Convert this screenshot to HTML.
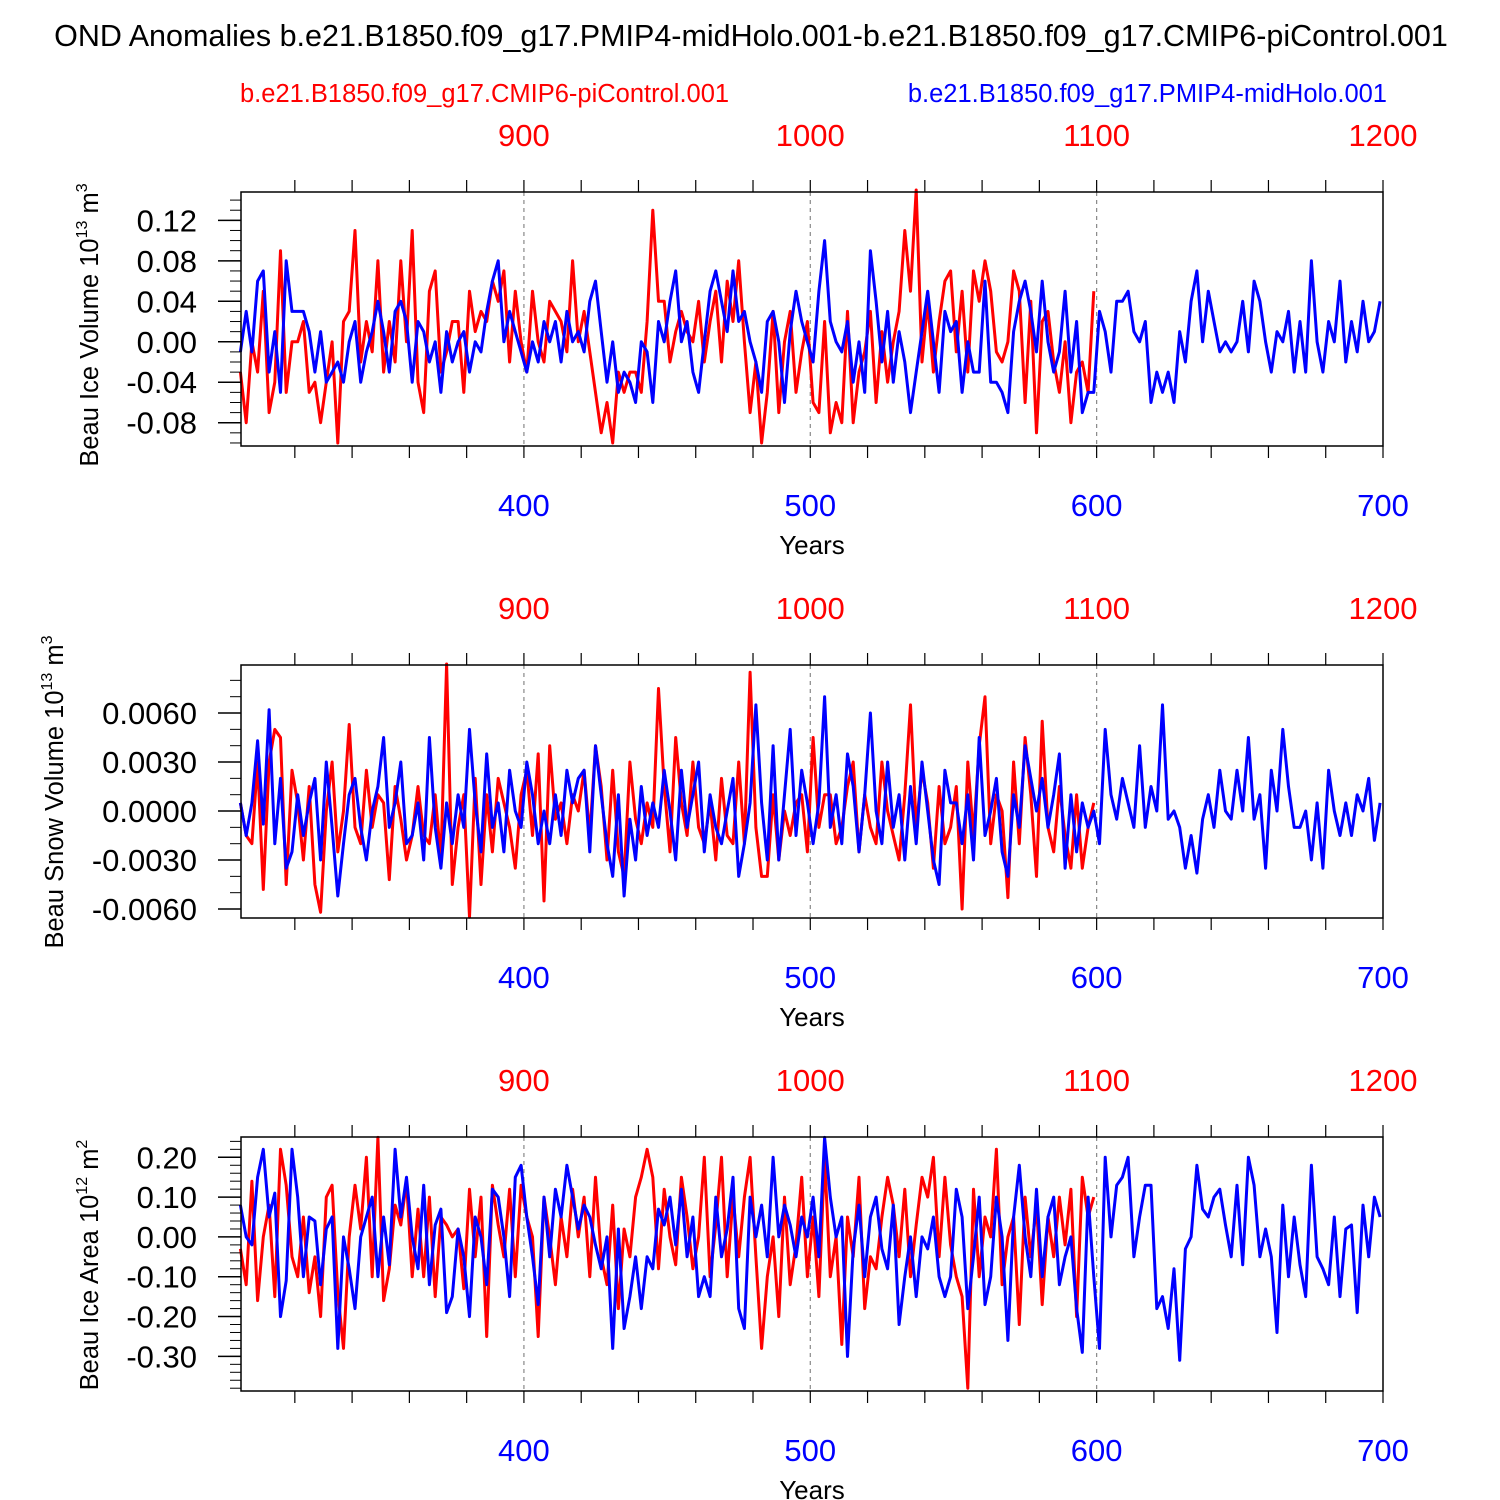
<!DOCTYPE html>
<html><head><meta charset="utf-8"><style>
body{margin:0;background:#fff}
svg{display:block;font-family:"Liberation Sans",sans-serif}
</style></head><body>
<svg id="chart" width="1500" height="1500" viewBox="0 0 1500 1500" xmlns="http://www.w3.org/2000/svg">
<text x="751" y="46" font-size="30.5" text-anchor="middle">OND Anomalies b.e21.B1850.f09_g17.PMIP4-midHolo.001-b.e21.B1850.f09_g17.CMIP6-piControl.001</text>
<text x="240" y="102" font-size="25.5" fill="#f00">b.e21.B1850.f09_g17.CMIP6-piControl.001</text>
<text x="1387" y="102" font-size="25.5" fill="#00f" text-anchor="end">b.e21.B1850.f09_g17.PMIP4-midHolo.001</text>
</svg>
<script>
const blueYearStart = 301, redYearStart = 301, yearStep = 2, redOffset = 500;
const bottomTicks = [400, 500, 600, 700];
const topTicks = [900, 1000, 1100, 1200];
const iceVolBlue = [-0.01,0.03,-0.01,0.06,0.07,-0.03,0.01,-0.05,0.08,0.03,0.03,0.03,0.01,-0.03,0.01,-0.04,-0.03,-0.02,-0.04,0.00,
0.02,-0.04,-0.01,0.01,0.04,0.01,-0.03,0.03,0.04,0.02,-0.04,0.02,0.01,-0.02,0.00,-0.05,0.01,-0.02,0.00,0.01,
-0.03,0.00,-0.01,0.03,0.06,0.08,0.00,0.03,0.01,-0.01,-0.03,0.00,-0.02,0.02,0.00,0.02,-0.02,0.03,0.00,0.01,
-0.01,0.04,0.06,0.01,-0.04,0.00,-0.05,-0.03,-0.04,-0.06,0.00,-0.01,-0.06,0.02,0.00,0.04,0.07,0.00,0.02,-0.03,
-0.05,0.00,0.05,0.07,0.04,0.01,0.07,0.02,0.03,0.00,-0.02,-0.05,0.02,0.03,0.00,-0.06,0.01,0.05,0.02,0.00,
-0.02,0.05,0.10,0.02,0.00,-0.01,0.02,-0.04,0.00,-0.05,0.09,0.04,-0.02,0.03,-0.04,0.01,-0.02,-0.07,-0.03,0.01,
0.05,0.00,-0.05,0.03,0.01,0.02,-0.05,0.00,-0.03,-0.03,0.06,-0.04,-0.04,-0.05,-0.07,0.01,0.04,0.06,0.03,-0.01,
0.06,0.00,-0.03,-0.01,0.05,-0.03,0.02,-0.07,-0.05,-0.05,0.03,0.01,-0.03,0.04,0.04,0.05,0.01,0.00,0.02,-0.06,
-0.03,-0.05,-0.03,-0.06,0.01,-0.02,0.04,0.07,0.00,0.05,0.02,-0.01,0.00,-0.01,0.00,0.04,-0.01,0.06,0.04,0.00,
-0.03,0.01,0.00,0.03,-0.03,0.02,-0.03,0.08,0.00,-0.03,0.02,0.00,0.06,-0.02,0.02,-0.01,0.04,0.00,0.01,0.04];
const iceVolRed = [-0.03,-0.08,0.00,-0.03,0.05,-0.07,-0.04,0.09,-0.05,0.00,0.00,0.02,-0.05,-0.04,-0.08,-0.04,0.00,-0.10,0.02,0.03,
0.11,-0.02,0.02,-0.01,0.08,-0.03,0.02,-0.02,0.08,0.00,0.11,-0.04,-0.07,0.05,0.07,-0.03,-0.01,0.02,0.02,-0.05,
0.05,0.01,0.03,0.02,0.06,0.04,0.07,-0.02,0.05,0.00,-0.03,0.05,0.00,-0.02,0.04,0.03,0.02,-0.01,0.08,0.00,
0.03,-0.01,-0.05,-0.09,-0.06,-0.10,-0.03,-0.05,-0.03,-0.03,-0.05,0.02,0.13,0.04,0.04,-0.02,0.01,0.03,0.01,0.00,
0.04,-0.02,0.02,0.05,-0.02,0.06,0.02,0.08,0.00,-0.07,-0.02,-0.10,-0.05,0.03,-0.07,0.00,0.03,-0.05,-0.01,0.02,
-0.06,-0.07,0.02,-0.09,-0.06,-0.08,0.03,-0.08,-0.03,-0.01,0.03,-0.06,0.01,-0.04,0.00,0.03,0.11,0.05,0.15,-0.02,
0.04,-0.03,0.02,0.06,0.07,-0.01,0.05,-0.03,0.07,0.04,0.08,0.05,-0.01,-0.02,0.00,0.07,0.05,-0.06,0.04,-0.09,
0.02,0.03,-0.02,-0.05,0.00,-0.08,-0.03,-0.02,-0.05,0.05];
const snowVolBlue = [0.5,-1.5,0.5,4.3,-0.8,6.2,-2.0,2.0,-3.5,-2.5,1.0,-1.5,0.5,2.0,-3.0,3.0,-1.0,-5.2,-2.0,1.0,
2.0,-1.0,-3.0,0.0,1.5,4.5,-1.0,0.5,3.0,-2.0,-1.5,0.5,-3.0,4.5,-1.0,-3.5,0.5,-2.0,1.0,-1.0,
5.0,0.5,-2.5,3.5,-1.0,0.5,-2.5,2.5,0.0,-1.0,3.0,1.0,-2.0,0.0,-2.0,1.0,-1.5,2.5,0.5,2.0,
2.5,-2.5,4.0,1.0,-2.0,-4.0,1.0,-5.2,-0.5,-3.0,1.5,-1.5,0.5,-1.0,2.5,0.0,-3.0,2.5,-1.0,1.0,
3.0,-2.5,1.0,-1.0,-2.0,0.0,2.0,-4.0,-2.0,0.5,6.5,0.5,-3.0,4.0,-3.0,1.0,5.0,-1.5,2.5,0.5,
-2.0,0.5,7.0,-1.0,1.0,-2.0,3.5,1.5,-2.5,1.0,6.0,0.0,-2.0,3.0,-1.0,1.0,-3.0,1.5,-2.0,3.0,
0.0,-3.0,-4.5,2.5,0.5,0.5,-2.0,1.0,-3.0,4.5,-1.5,0.0,2.0,-2.5,-4.0,1.0,-1.0,4.0,2.0,0.0,
2.0,-1.0,1.0,3.5,-3.5,1.0,-2.5,0.5,-1.0,0.0,-2.0,5.0,1.0,-0.5,2.0,0.5,-1.0,4.0,-1.0,1.5,
0.0,6.5,-0.5,0.0,-1.0,-3.5,-1.5,-3.8,-0.5,1.0,-1.0,2.5,0.0,-0.5,2.5,0.0,4.5,-0.5,1.0,-3.5,
2.5,0.0,5.0,1.5,-1.0,-1.0,0.0,-3.0,0.5,-3.5,2.5,0.0,-1.5,0.5,-1.5,1.0,0.0,2.0,-1.8,0.5];
const snowVolRed = [0.5,-1.5,-2.0,3.0,-4.8,3.0,5.0,4.5,-4.5,2.5,0.5,-3.0,1.5,-4.5,-6.2,0.0,3.0,-2.5,0.0,5.3,
-1.0,-2.0,2.5,-1.0,1.0,0.5,-4.2,1.5,-0.5,-3.0,-1.5,1.5,-1.5,-2.0,1.0,-3.0,9.0,-4.5,-1.0,1.0,
-6.5,2.0,-4.5,1.0,-2.5,2.0,0.5,-1.0,-3.5,1.0,2.5,-1.5,3.5,-5.5,4.0,-0.5,0.5,-2.0,1.0,0.0,
2.5,-1.5,4.0,1.5,-3.0,2.5,-2.5,-4.0,3.0,-0.5,-2.0,0.5,-1.0,7.5,1.5,-2.5,4.5,0.5,-1.5,3.0,
-1.0,-2.0,0.5,-3.0,2.0,-1.5,-2.0,3.0,-2.0,8.5,-1.0,-4.0,-4.0,1.0,-3.0,0.0,-1.5,0.5,1.0,-2.5,
4.5,-1.0,1.0,1.0,-2.0,-1.0,1.5,3.0,-2.5,1.0,-1.0,-2.0,3.0,0.0,-1.5,-3.0,1.0,6.5,-1.0,2.5,
0.5,-3.5,1.5,-2.0,-1.0,1.5,-6.0,3.0,-1.5,4.0,7.0,-2.0,1.0,0.0,-5.3,3.0,-2.0,4.5,1.0,-4.0,
5.5,-1.0,-2.5,1.5,-1.5,-3.5,1.0,-3.5,-1.0,0.5];
const iceAreaBlue = [0.08,0.00,-0.02,0.15,0.22,0.05,0.11,-0.20,-0.11,0.22,0.10,-0.10,0.05,0.04,-0.12,0.02,0.05,-0.28,0.00,-0.08,
-0.18,0.00,0.05,0.10,-0.10,0.05,-0.07,0.22,0.05,0.15,0.00,-0.08,0.13,-0.12,0.03,0.07,-0.19,-0.15,0.02,-0.05,
-0.20,0.05,0.00,-0.12,0.12,0.10,0.00,-0.15,0.15,0.18,0.05,-0.05,-0.17,0.10,-0.05,0.12,0.05,0.18,0.10,0.02,
0.08,0.05,-0.02,-0.08,0.00,-0.28,0.02,-0.23,-0.15,-0.05,-0.18,-0.05,-0.08,0.07,0.03,0.10,-0.02,0.12,-0.05,0.05,
-0.15,-0.10,-0.15,0.10,-0.05,0.02,0.15,-0.18,-0.23,0.10,0.00,0.08,-0.05,0.20,0.00,0.08,0.03,-0.05,0.05,0.00,
0.10,-0.05,0.25,0.10,0.00,0.05,-0.30,-0.03,0.08,-0.10,0.05,0.10,-0.03,-0.08,0.08,-0.22,-0.10,0.00,-0.15,0.00,
-0.03,0.05,-0.10,-0.15,-0.10,0.12,0.05,-0.18,-0.05,0.10,-0.17,-0.10,0.10,0.00,-0.26,0.05,0.18,0.00,-0.10,0.12,
-0.10,0.05,0.10,-0.12,-0.05,0.00,-0.18,-0.29,0.10,-0.10,-0.28,0.20,0.00,0.13,0.15,0.20,-0.05,0.05,0.13,0.13,
-0.18,-0.15,-0.23,-0.08,-0.31,-0.03,0.00,0.18,0.07,0.05,0.10,0.12,0.03,-0.05,0.13,-0.07,0.20,0.13,-0.05,0.02,
-0.05,-0.24,0.08,-0.10,0.05,-0.07,-0.15,0.18,-0.05,-0.08,-0.12,0.05,-0.15,0.02,0.03,-0.19,0.08,-0.05,0.10,0.05];
const iceAreaRed = [-0.03,-0.12,0.14,-0.16,0.00,0.08,-0.15,0.22,0.13,-0.05,-0.10,0.05,-0.14,-0.05,-0.20,0.10,0.13,-0.14,-0.28,0.00,
0.13,0.02,0.20,-0.10,0.25,-0.16,-0.08,0.08,0.03,0.14,-0.10,0.07,-0.10,0.10,-0.15,0.05,0.03,0.00,0.02,-0.13,
0.12,-0.05,0.10,-0.25,0.13,0.03,-0.05,0.12,-0.10,0.13,0.05,0.00,-0.25,0.10,0.00,-0.12,0.05,-0.05,0.12,0.00,
0.10,-0.10,0.15,-0.05,-0.12,0.08,-0.18,0.02,-0.05,0.10,0.15,0.22,0.15,-0.08,0.12,0.00,-0.07,0.15,0.05,-0.08,
0.00,0.20,-0.10,0.03,0.20,-0.10,0.10,-0.05,0.10,0.20,-0.05,-0.28,-0.10,0.00,-0.20,0.10,-0.12,-0.02,0.15,-0.10,
0.05,-0.15,0.20,-0.10,0.00,-0.27,0.05,-0.05,0.15,-0.18,-0.05,-0.08,0.05,0.15,0.08,-0.05,0.12,-0.10,0.03,0.15,
0.10,0.20,-0.05,0.15,-0.02,-0.10,-0.15,-0.38,0.12,-0.10,0.05,0.00,0.22,-0.12,0.00,0.05,-0.22,0.10,-0.05,0.08,
-0.17,0.05,-0.05,0.10,-0.02,0.12,-0.20,0.15,0.05,0.10];

const NS = "http://www.w3.org/2000/svg";
const svg = document.getElementById('chart');
const X0 = 241, X1 = 1383, YR0 = 301.2, YR1 = 700;
function xScale(yr){ return X0 + (yr - YR0) / (YR1 - YR0) * (X1 - X0); }
function mk(tag, attrs, parent){ const e = document.createElementNS(NS, tag); for (const k in attrs) e.setAttribute(k, attrs[k]); (parent||svg).appendChild(e); return e; }

const panels = [
 {key:'ice-volume', top:192, bot:446, ymin:-0.103, ymax:0.148, scale:1, majors:[-0.08,-0.04,0,0.04,0.08,0.12], minorStep:0.01, dec:2,
  blue:iceVolBlue, red:iceVolRed, title:['Beau Ice Volume 10','13',' m','3'], tx:98, ty:325},
 {key:'snow-volume', top:665, bot:918, ymin:-0.00655, ymax:0.00894, scale:0.001, majors:[-0.006,-0.003,0,0.003,0.006], minorStep:0.001, dec:4,
  blue:snowVolBlue, red:snowVolRed, title:['Beau Snow Volume 10','13',' m','3'], tx:63, ty:792},
 {key:'ice-area', top:1137, bot:1391, ymin:-0.387, ymax:0.251, scale:1, majors:[-0.3,-0.2,-0.1,0,0.1,0.2], minorStep:0.02, dec:2,
  blue:iceAreaBlue, red:iceAreaRed, title:['Beau Ice Area 10','12',' m','2'], tx:98, ty:1265}
];

panels.forEach(p => {
  const g = mk('g', {});
  
  
  const yS = v => p.bot - (v - p.ymin) / (p.ymax - p.ymin) * (p.bot - p.top);
  [400,500,600].forEach(t => {
    const l = mk('line', {x1:xScale(t), x2:xScale(t), y1:p.top, y2:p.bot, stroke:'#888', 'stroke-width':1.2, 'stroke-dasharray':'4,4'}, g);
    
    
  });
  [['red', p.red, redYearStart, '#f00'], ['blue', p.blue, blueYearStart, '#00f']].forEach(([nm, arr, ys, col]) => {
    const pts = arr.map((v, i) => xScale(ys + i*yearStep).toFixed(1) + ',' + yS(v*p.scale).toFixed(1)).join(' ');
    const pl = mk('polyline', {points:pts, fill:'none', stroke:col, 'stroke-width':3, 'stroke-linejoin':'round'}, g);
    
    
  });
  const fr = mk('rect', {x:X0, y:p.top, width:X1-X0, height:p.bot-p.top, fill:'none', stroke:'#000', 'stroke-width':1.5}, g);
  
  
  for (let yr = 320; yr <= 700; yr += 20) {
    const x = xScale(yr);
    mk('line', {x1:x, x2:x, y1:p.top, y2:p.top-12, stroke:'#000', 'stroke-width':1.2}, g);
    mk('line', {x1:x, x2:x, y1:p.bot, y2:p.bot+12, stroke:'#000', 'stroke-width':1.2}, g);
  }
  bottomTicks.forEach(t => {
    const tx = mk('text', {x:xScale(t), y:p.bot+70, 'font-size':31, fill:'#00f', 'text-anchor':'middle'}, g);
    
    
    tx.textContent = t;
  });
  topTicks.forEach(t => {
    const tx = mk('text', {x:xScale(t - redOffset), y:p.top-46, 'font-size':31, fill:'#f00', 'text-anchor':'middle'}, g);
    
    
    tx.textContent = t;
  });
  const yt = mk('text', {x:812, y:p.bot+108, 'font-size':26, 'text-anchor':'middle'}, g);
  
  
  yt.textContent = 'Years';
  const ms = p.minorStep;
  for (let v = Math.ceil(p.ymin/ms)*ms; v <= p.ymax + 1e-12; v += ms) {
    const y = yS(v);
    mk('line', {x1:X0, x2:X0-11, y1:y, y2:y, stroke:'#000', 'stroke-width':1}, g);
  }
  p.majors.forEach(v => {
    const y = yS(v);
    mk('line', {x1:X0, x2:X0-23, y1:y, y2:y, stroke:'#000', 'stroke-width':1.5}, g);
    const tl = mk('text', {x:X0-44, y:y+11, 'font-size':31, 'text-anchor':'end'}, g);
    
    
    tl.textContent = v.toFixed(p.dec);
  });
  const t = mk('text', {x:p.tx, y:p.ty, 'font-size':25.5, 'text-anchor':'middle', transform:'rotate(-90 '+p.tx+' '+p.ty+')'}, g);
  
  
  const a = document.createElementNS(NS,'tspan'); a.textContent = p.title[0]; t.appendChild(a);
  const b = document.createElementNS(NS,'tspan'); b.textContent = p.title[1]; b.setAttribute('font-size','16'); b.setAttribute('dy','-11'); t.appendChild(b);
  const c = document.createElementNS(NS,'tspan'); c.textContent = p.title[2]; c.setAttribute('dy','11'); t.appendChild(c);
  const d = document.createElementNS(NS,'tspan'); d.textContent = p.title[3]; d.setAttribute('font-size','16'); d.setAttribute('dy','-11'); t.appendChild(d);
});
</script>
</body></html>
